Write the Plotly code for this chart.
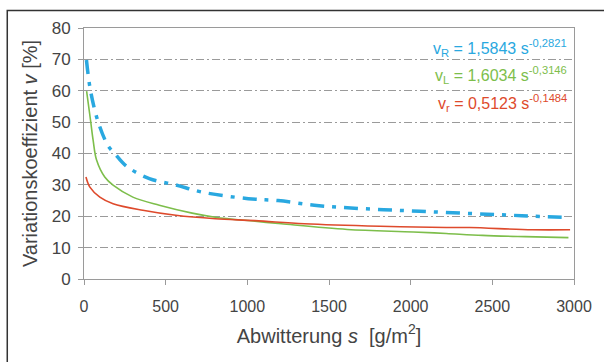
import plotly.graph_objects as go

# Abwitterung s [g/m²] and Variationskoeffizient v [%] for the three series
s_R = [15, 40, 87, 147, 188, 259, 400, 561, 723, 1006, 1188, 1410, 1612, 1834, 2056, 2300, 2541, 2750, 2960]
v_R = [69.8, 60.0, 50.0, 42.5, 40.0, 36.0, 32.0, 30.0, 27.7, 25.6, 25.0, 23.5, 22.7, 22.1, 21.6, 21.0, 20.5, 20.0, 19.6]

s_L = [16, 40, 56, 77, 127, 178, 299, 461, 662, 804, 1046, 1208, 1612, 2016, 2218, 2440, 2700, 2966]
v_L = [59.9, 50.6, 44.2, 37.9, 32.5, 29.9, 26.1, 23.5, 21.0, 19.7, 18.4, 17.6, 15.8, 15.0, 14.5, 13.9, 13.5, 13.2]

s_r = [12, 36, 97, 178, 360, 562, 804, 1046, 1349, 1814, 2218, 2360, 2745, 2976]
v_r = [32.5, 29.3, 26.1, 24.0, 21.9, 20.3, 19.2, 18.6, 17.6, 16.8, 16.4, 16.4, 15.7, 15.7]

x_ticks = [0, 500, 1000, 1500, 2000, 2500, 3000]
y_ticks = [0, 10, 20, 30, 40, 50, 60, 70, 80]

BLUE = "#29A8E0"
GREEN = "#7DBE4B"
RED = "#DE4A2C"
GREY = "#9a9a9a"
TXT = "#444444"
FONT = "Liberation Sans, Arial, sans-serif"

fig = go.Figure()
fig.add_trace(go.Scatter(x=s_R, y=v_R, mode="lines", line_shape="spline",
                         line=dict(color=BLUE, width=3.5, dash="14px,8px,4px,8px")))
fig.add_trace(go.Scatter(x=s_L, y=v_L, mode="lines", line_shape="spline",
                         line=dict(color=GREEN, width=1.6)))
fig.add_trace(go.Scatter(x=s_r, y=v_r, mode="lines", line_shape="spline",
                         line=dict(color=RED, width=1.6)))

# fit equations, right-aligned in the upper right of the plot area
labels = [
    ("v<sub>R</sub> = 1,5843 s<sup>-0,2821</sup>", BLUE, 0.92),
    ("v<sub>L</sub> = 1,6034 s<sup>-0,3146</sup>", GREEN, 0.8125),
    ("v<sub>r</sub> = 0,5123 s<sup>-0,1484</sup>", RED, 0.70),
]
for text, col, yp in labels:
    fig.add_annotation(x=0.99, y=yp, xref="paper", yref="paper", text=text, showarrow=False,
                       xanchor="right", yanchor="middle",
                       font=dict(family=FONT, size=16, color=col))

# outer frame (only its top and left edges fall inside the figure)
fig.add_shape(type="rect", xref="paper", yref="paper",
              x0=-0.1566, x1=1.3, y0=-0.6, y1=1.0697,
              line=dict(color="#333333", width=1.5), layer="above")

fig.update_layout(
    width=604, height=362,
    margin=dict(l=84, r=25, t=28, b=83),
    paper_bgcolor="white", plot_bgcolor="white",
    showlegend=False,
    font=dict(family=FONT, color=TXT),
)
fig.update_xaxes(
    range=[0, 3000], tickvals=x_ticks, showgrid=False, zeroline=False,
    showline=True, linecolor=GREY, linewidth=1, mirror=True,
    ticks="outside", ticklen=5, tickcolor=GREY,
    tickfont=dict(family=FONT, size=16, color=TXT), ticklabelstandoff=8,
    title=dict(text="Abwitterung <i>s</i>\u00a0 [g/m<sup>2</sup>]", standoff=14,
               font=dict(family=FONT, size=20, color=TXT)),
)
fig.update_yaxes(
    range=[0, 80], tickvals=y_ticks, zeroline=False,
    showgrid=True, gridcolor=GREY, gridwidth=1, griddash="8px,3px,2px,3px",
    showline=True, linecolor=GREY, linewidth=1, mirror=True,
    ticks="outside", ticklen=5, tickcolor=GREY,
    tickfont=dict(family=FONT, size=17, color=TXT), ticklabelstandoff=4,
    title=dict(text="Variationskoeffizient <i>v</i> [%]", standoff=8,
               font=dict(family=FONT, size=20, color=TXT)),
)

fig.write_html("out.html")
